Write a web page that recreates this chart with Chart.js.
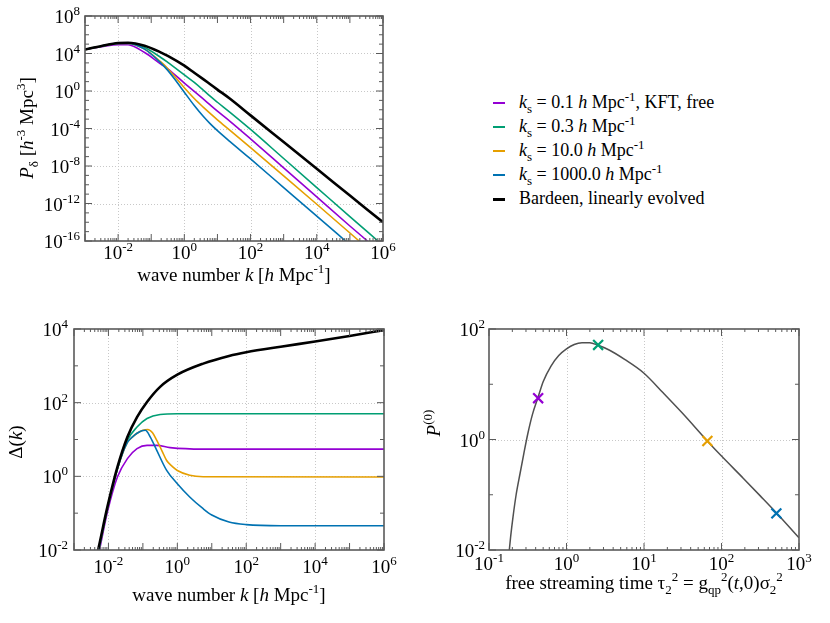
<!DOCTYPE html>
<html>
<head>
<meta charset="utf-8">
<script src="https://cdn.jsdelivr.net/npm/chart.js@4.4.0/dist/chart.umd.min.js"></script>
<style>
    body { margin: 0; background: #fff; width: 830px; height: 623px; position: relative; overflow: hidden; font-family: "Liberation Serif", "DejaVu Serif", serif; }
    canvas { position: absolute; }
    #legend { position: absolute; left: 490px; top: 90px; font-size: 18px; line-height: 24px; color: #000; }
    #legend div { position: relative; padding-left: 29px; white-space: nowrap; }
    #legend .sw { position: absolute; left: 3px; top: 12px; width: 12px; height: 2px; }
    #legend sup, #legend sub { font-size: 13px; line-height: 0; }
</style>
</head>
<body>
<canvas id="psChart" width="400" height="300" style="left:0;top:0"></canvas>
<canvas id="deltaChart" width="400" height="313" style="left:0;top:310px"></canvas>
<canvas id="pChart" width="420" height="313" style="left:410px;top:310px"></canvas>
<div id="legend"></div>
<script>
// values as [log10 x, log10 y]
var seriesKs = ['0.1', '0.3', '10.0', '1000.0'];
var seriesColors = ['#9400d3', '#009e73', '#e69f00', '#0072b2'];
var bardeenLabel = 'Bardeen, linearly evolved';

// power spectrum P(k)
var psBlack = [[-3,4.43],[-2.5,4.8],[-2,5.12],[-1.7,5.15],[-1.2,4.83],[-0.7,4.1],[-0.5,3.75],[0,2.7],[0.3,1.95],[0.57,1.27],[0.77,0.75],[1,0.15],[1.38,-0.83],[2,-2.6],[3,-5.45],[4,-8.3],[5,-11.15],[6,-14.0]];
var psPurple = [[-3,4.43],[-2.5,4.72],[-2,4.94],[-1.7,4.93],[-1.2,4.1],[-0.7,2.85],[-0.5,2.37],[0,0.85],[0.3,-0.05],[0.57,-0.85],[0.77,-1.46],[1,-2.15],[1.38,-3.23],[2,-5.1],[3,-8.2],[4,-11.3],[5,-14.4],[5.53,-16]];
var psGreen = [[-3,4.43],[-2.5,4.8],[-2,5.1],[-1.7,5.12],[-1.2,4.63],[-0.7,3.55],[-0.5,3.05],[0,1.72],[0.3,0.92],[0.57,0.1],[0.77,-0.53],[1,-1.2],[1.38,-2.28],[2,-4.1],[3,-7.2],[4,-10.3],[5,-13.4],[5.85,-16]];
var psOrange = [[-3,4.43],[-2.5,4.78],[-2,5.08],[-1.7,5.08],[-1.2,4.47],[-0.7,3.07],[-0.5,2.38],[0,0.35],[0.3,-0.8],[0.57,-1.72],[0.77,-2.36],[1,-3.07],[1.38,-4.2],[2,-6.05],[3,-9.05],[4,-12.08],[5.28,-16]];
var psBlue = [[-3,4.43],[-2.5,4.78],[-2,5.08],[-1.7,5.08],[-1.2,4.47],[-0.7,2.95],[-0.5,2.2],[-0.3,1.3],[0,-0.13],[0.3,-1.55],[0.57,-2.7],[0.77,-3.45],[1,-4.23],[1.38,-5.4],[2,-7.25],[3,-10.3],[4,-13.35],[4.87,-16]];

// Delta(k)
var dBlack = [[-2.45,-2.6],[-2.3,-2],[-2.03,-0.83],[-1.74,0.25],[-1.45,1.07],[-1.17,1.61],[-0.88,2.02],[-0.5,2.43],[0,2.76],[0.75,3.06],[1.5,3.27],[2,3.37],[3,3.52],[4,3.66],[5,3.81],[6,3.97]];
var dPurple = [[-2.42,-2.7],[-2.26,-2],[-2.03,-0.97],[-1.74,-0.02],[-1.45,0.48],[-1.17,0.75],[-0.88,0.84],[-0.6,0.84],[-0.21,0.78],[0.75,0.74],[6,0.74]];
var dGreen = [[-2.45,-2.65],[-2.29,-2],[-2.03,-0.87],[-1.74,0.2],[-1.45,0.98],[-1.17,1.34],[-0.88,1.57],[-0.5,1.68],[0,1.7],[6,1.7]];
var dOrange = [[-2.45,-2.65],[-2.28,-2],[-2.03,-0.87],[-1.74,0.2],[-1.45,0.92],[-1.3,1.07],[-1.17,1.17],[-1.0,1.25],[-0.86,1.27],[-0.72,1.18],[-0.6,0.98],[-0.45,0.7],[-0.31,0.43],[-0.15,0.27],[0,0.16],[0.36,0.03],[0.75,-0.01],[6,-0.02]];
var dBlue = [[-2.45,-2.65],[-2.28,-2],[-2.03,-0.87],[-1.74,0.2],[-1.45,0.92],[-1.3,1.07],[-1.17,1.17],[-1.03,1.24],[-0.93,1.25],[-0.78,1.06],[-0.6,0.71],[-0.31,0.16],[0,-0.2],[0.36,-0.56],[0.75,-0.88],[1,-1.05],[1.5,-1.24],[2,-1.31],[3,-1.34],[6,-1.34]];

// P^(0) against free streaming time
var pCurve = [[-0.745,-2.1],[-0.72,-1.75],[-0.69,-1.4],[-0.65,-1.0],[-0.6,-0.62],[-0.55,-0.25],[-0.5,0.1],[-0.44,0.45],[-0.37,0.75],[-0.3,1.05],[-0.2,1.33],[-0.1,1.52],[0,1.64],[0.1,1.72],[0.2,1.75],[0.3,1.75],[0.4,1.71],[0.55,1.62],[0.75,1.45],[1,1.2],[1.25,0.84],[1.5,0.47],[1.82,-0.03],[2,-0.3],[2.28,-0.7],[2.5,-1.02],[2.71,-1.33],[3,-1.78]];
var pMarks = [[-0.366,0.748],[0.408,1.712],[1.818,-0.027],[2.708,-1.337]];

var FONT = '"Liberation Serif", "DejaVu Serif", serif';

// draws text made of pieces: '' roman, 'i' italic, '^' superscript, '_' subscript
function rich(ctx, segs, x, y, opt) {
    opt = opt || {};
    var base = opt.size || 19, small = Math.round(base * 0.7);
    ctx.save();
    ctx.translate(x, y);
    if (opt.rot) ctx.rotate(opt.rot);
    var parts = segs.map(function (s) {
        var st = s[1] || '';
        var sm = st.indexOf('^') >= 0 || st.indexOf('_') >= 0;
        var font = (st.indexOf('i') >= 0 ? 'italic ' : '') + (sm ? small : base) + 'px ' + FONT;
        ctx.font = font;
        return {t: s[0], font: font, w: ctx.measureText(s[0]).width,
            dy: st.indexOf('^') >= 0 ? -base * 0.42 : (st.indexOf('_') >= 0 ? base * 0.25 : 0)};
    });
    var total = parts.reduce(function (a, p) { return a + p.w; }, 0);
    var cx = opt.align === 'right' ? -total : (opt.align === 'left' ? 0 : -total / 2);
    ctx.fillStyle = '#000';
    ctx.textAlign = 'left';
    ctx.textBaseline = 'alphabetic';
    parts.forEach(function (p) { ctx.font = p.font; ctx.fillText(p.t, cx, p.dy); cx += p.w; });
    ctx.restore();
}

// gnuplot-like frame: dotted grid, inward ticks on all sides, 10^n labels, titles
var gnuFrame = {
    id: 'gnuFrame',
    beforeDatasetsDraw: function (chart, args, o) {
        var ctx = chart.ctx, a = chart.chartArea, sx = chart.scales.x, sy = chart.scales.y;
        ctx.save();
        ctx.strokeStyle = '#c8c8c8';
        ctx.lineWidth = 1;
        ctx.setLineDash([1, 2]);
        ctx.beginPath();
        o.xGrid.forEach(function (e) {
            var p = Math.round(sx.getPixelForValue(Math.pow(10, e))) + 0.5;
            ctx.moveTo(p, a.top); ctx.lineTo(p, a.bottom);
        });
        o.yGrid.forEach(function (e) {
            var p = Math.round(sy.getPixelForValue(Math.pow(10, e))) + 0.5;
            ctx.moveTo(a.left, p); ctx.lineTo(a.right, p);
        });
        ctx.stroke();
        ctx.restore();
    },
    afterDatasetsDraw: function (chart, args, o) {
        var ctx = chart.ctx, a = chart.chartArea, sx = chart.scales.x, sy = chart.scales.y;
        ctx.save();
        ctx.strokeStyle = '#5a5a5a';
        ctx.lineWidth = 1;
        ctx.beginPath();
        for (var e = o.xRange[0]; e <= o.xRange[1]; e++) {
            for (var m = 1; m <= 9; m++) {
                if (e === o.xRange[1] && m > 1) break;
                var p = sx.getPixelForValue(m * Math.pow(10, e));
                var len = m === 1 ? 7 : 3;
                ctx.moveTo(p, a.bottom); ctx.lineTo(p, a.bottom - len);
                ctx.moveTo(p, a.top); ctx.lineTo(p, a.top + len);
            }
        }
        for (var f = o.yRange[0]; f <= o.yRange[1]; f++) {
            var q = sy.getPixelForValue(Math.pow(10, f));
            var ln = o.yLabels.indexOf(f) >= 0 ? 7 : 4;
            ctx.moveTo(a.left, q); ctx.lineTo(a.left + ln, q);
            ctx.moveTo(a.right, q); ctx.lineTo(a.right - ln, q);
        }
        ctx.stroke();
        ctx.lineWidth = 1.6;
        ctx.strokeRect(a.left, a.top, a.right - a.left, a.bottom - a.top);
        ctx.restore();

        o.xLabels.forEach(function (e) {
            rich(ctx, [['10'], [String(e), '^']], sx.getPixelForValue(Math.pow(10, e)), a.bottom + o.xLabelDy);
        });
        o.yLabels.forEach(function (e) {
            rich(ctx, [['10'], [String(e), '^']], a.left - o.yLabelGap, sy.getPixelForValue(Math.pow(10, e)) + 7, {align: 'right'});
        });
        rich(ctx, o.xTitle, (a.left + a.right) / 2, o.xTitleY);
        rich(ctx, o.yTitle, o.yTitleX, o.yTitleY, {rot: -Math.PI / 2});
    }
};

function axis(range, dir, size) {
    return {
        type: 'logarithmic',
        position: dir === 'x' ? 'bottom' : 'left',
        min: Math.pow(10, range[0]),
        max: Math.pow(10, range[1]),
        grid: {display: false},
        border: {display: false},
        ticks: {display: false},
        afterFit: function (s) { if (dir === 'x') s.height = size; else s.width = size; }
    };
}

function curve(pts, color, width, label) {
    return {
        label: label,
        data: pts.map(function (p) { return {x: Math.pow(10, p[0]), y: Math.pow(10, p[1])}; }),
        borderColor: color,
        borderWidth: width,
        pointRadius: 0,
        fill: false,
        cubicInterpolationMode: 'monotone'
    };
}

function makeChart(id, datasets, box, deco) {
    return new Chart(document.getElementById(id), {
        type: 'line',
        data: {datasets: datasets},
        options: {
            responsive: false,
            animation: false,
            events: [],
            layout: {padding: {top: box.top, right: box.right, left: 0, bottom: 0}},
            plugins: {legend: {display: false}, tooltip: {enabled: false}, gnuFrame: deco},
            scales: {x: axis(deco.xRange, 'x', box.bottom), y: axis(deco.yRange, 'y', box.left)}
        },
        plugins: [gnuFrame]
    });
}

var kTitle = [['wave number '], ['k', 'i'], [' ['], ['h', 'i'], [' Mpc'], ['-1', '^'], [']']];
function ksLabel(i) { return 'k_s = ' + seriesKs[i] + ' h Mpc^-1' + (i === 0 ? ', KFT, free' : ''); }

// top left: power spectra
makeChart('psChart', [
    curve(psBlack, '#000', 2.6, bardeenLabel),
    curve(psBlue, seriesColors[3], 1.6, ksLabel(3)),
    curve(psOrange, seriesColors[2], 1.6, ksLabel(2)),
    curve(psGreen, seriesColors[1], 1.6, ksLabel(1)),
    curve(psPurple, seriesColors[0], 1.6, ksLabel(0))
], {top: 16, right: 17, bottom: 59, left: 85}, {
    xRange: [-3, 6], yRange: [-16, 8],
    xGrid: [-2, 0, 2, 4], yGrid: [4, 0, -4, -8, -12],
    xLabels: [-2, 0, 2, 4, 6], yLabels: [8, 4, 0, -4, -8, -12, -16],
    xLabelDy: 18, yLabelGap: 5,
    xTitle: kTitle, xTitleY: 281,
    yTitle: [['P', 'i'], ['δ', '_'], [' ['], ['h', 'i'], ['-3', '^'], [' Mpc'], ['3', '^'], [']']],
    yTitleX: 33, yTitleY: 128
});

// bottom left: Delta(k)
makeChart('deltaChart', [
    curve(dBlack, '#000', 2.6, bardeenLabel),
    curve(dBlue, seriesColors[3], 1.6, ksLabel(3)),
    curve(dOrange, seriesColors[2], 1.6, ksLabel(2)),
    curve(dGreen, seriesColors[1], 1.6, ksLabel(1)),
    curve(dPurple, seriesColors[0], 1.6, ksLabel(0))
], {top: 19, right: 16, bottom: 73, left: 74}, {
    xRange: [-3, 6], yRange: [-2, 4],
    xGrid: [-2, 0, 2, 4], yGrid: [2, 0],
    xLabels: [-2, 0, 2, 4, 6], yLabels: [4, 2, 0, -2],
    xLabelDy: 23, yLabelGap: 6,
    xTitle: kTitle, xTitleY: 291,
    yTitle: [['Δ('], ['k', 'i'], [')']],
    yTitleX: 22, yTitleY: 132
});

// bottom right: P^(0)
var marks = {
    label: 'k_s markers',
    data: pMarks.map(function (p) { return {x: Math.pow(10, p[0]), y: Math.pow(10, p[1])}; }),
    showLine: false,
    pointStyle: 'crossRot',
    pointRadius: 7,
    pointBorderWidth: 2.2,
    pointBorderColor: seriesColors,
    pointBackgroundColor: seriesColors,
    borderColor: seriesColors
};
makeChart('pChart', [marks, curve(pCurve, '#505050', 1.5, 'P0')], {top: 19, right: 31, bottom: 73, left: 79}, {
    xRange: [-1, 3], yRange: [-2, 2],
    xGrid: [0, 1, 2], yGrid: [0],
    xLabels: [-1, 0, 1, 2, 3], yLabels: [2, 0, -2],
    xLabelDy: 20, yLabelGap: 4,
    xTitle: [['free streaming time τ'], ['2', '_'], ['2', '^'], [' = g'], ['qp', '_'], ['2', '^'], ['('], ['t', 'i'], [',0)σ'], ['2', '_'], ['2', '^']],
    xTitleY: 279,
    yTitle: [['P', 'i'], ['(0)', '^']],
    yTitleX: 30, yTitleY: 113
});

// legend on the right of the top panel
var legend = document.getElementById('legend');
seriesKs.forEach(function (ks, i) {
    var row = document.createElement('div');
    row.innerHTML = '<span class="sw" style="background:' + seriesColors[i] + '"></span>' +
        '<i>k</i><sub>s</sub> = ' + ks + ' <i>h</i> Mpc<sup>-1</sup>' + (i === 0 ? ', KFT, free' : '');
    legend.appendChild(row);
});
var last = document.createElement('div');
last.innerHTML = '<span class="sw" style="background:#000;height:3px"></span>' + bardeenLabel;
legend.appendChild(last);
</script>
</body>
</html>
